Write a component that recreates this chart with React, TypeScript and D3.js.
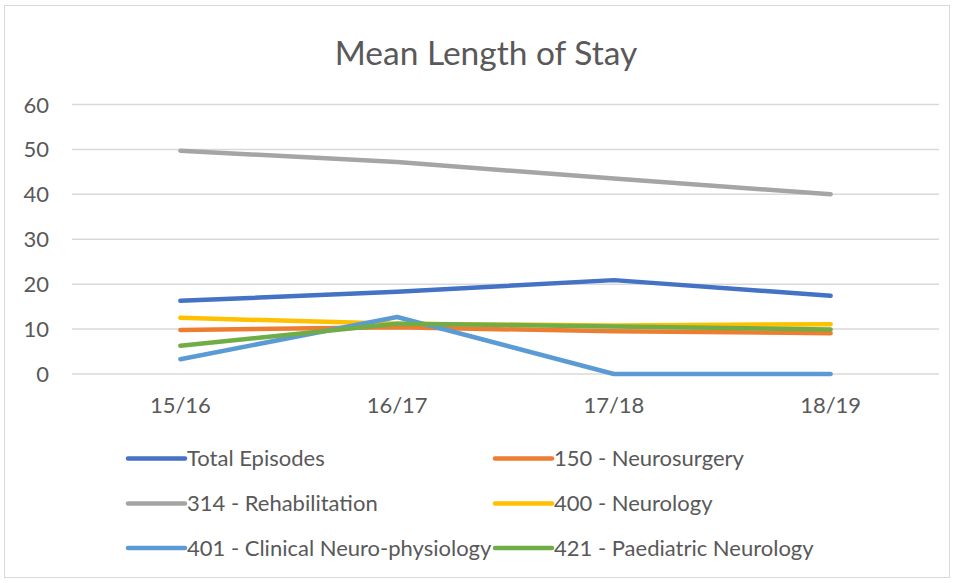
import React from "react";
import * as d3 from "d3";

const categories = ["15/16", "16/17", "17/18", "18/19"];
const seriesNames = [
  "Total Episodes",
  "150 - Neurosurgery",
  "314 - Rehabilitation",
  "400 - Neurology",
  "401 - Clinical Neuro-physiology",
  "421 - Paediatric Neurology",
];
const totalEpisodes = [16.3, 18.3, 20.9, 17.4];
const neurosurgery = [9.8, 10.4, 9.5, 9.1];
const rehabilitation = [49.7, 47.2, 43.5, 40.0];
const neurology = [12.5, 11.2, 10.8, 11.1];
const clinicalNeuro = [3.3, 12.7, 0, 0];
const paediatric = [6.3, 11.2, 10.6, 9.9];
const seriesColors = ["#4472C4", "#ED7D31", "#A5A5A5", "#FFC000", "#5B9BD5", "#70AD47"];
const yTicks = [0, 10, 20, 30, 40, 50, 60];

const seriesValues = [totalEpisodes, neurosurgery, rehabilitation, neurology, clinicalNeuro, paediatric];
const drawOrder = [2, 0, 3, 1, 4, 5];

export default function App() {
  const W = 956, H = 583;
  const x = d3.scaleBand<string>().domain(categories).range([72, 939]);
  const y = d3.scaleLinear().domain([0, 60]).range([374, 104.5]);
  const line = d3
    .line<number>()
    .x((_, i) => (x(categories[i]) as number) + x.bandwidth() / 2)
    .y((d) => y(d));
  const font = "Lato, 'Open Sans', sans-serif";
  const grey = "#595959";

  const legendRows = [458.5, 503.5, 548];
  const legendCols = [128, 495];

  return (
    <svg width={W} height={H} style={{ position: "absolute", left: 0, top: 0 }} fontFamily={font}>
      <rect x={0} y={0} width={W} height={H} fill="#fff" />
      <rect x={4.5} y={5.5} width={945} height={572} fill="#fff" stroke="#d9d9d9" strokeWidth={1} />
      <text x={486} y={65} textAnchor="middle" fontSize={33.5} fill={grey}>
        Mean Length of Stay
      </text>
      {yTicks.map((t) => (
        <g key={t}>
          <line x1={72} x2={939} y1={y(t)} y2={y(t)} stroke="#d9d9d9" strokeWidth={1.5} />
          <text x={49} y={y(t) + 8} textAnchor="end" fontSize={22} fill={grey}>
            {t}
          </text>
        </g>
      ))}
      {categories.map((c) => (
        <text key={c} x={(x(c) as number) + x.bandwidth() / 2} y={413} textAnchor="middle" fontSize={22} fill={grey}>
          {c}
        </text>
      ))}
      {drawOrder.map((i) => (
        <path
          key={i}
          d={line(seriesValues[i]) || ""}
          fill="none"
          stroke={seriesColors[i]}
          strokeWidth={4.5}
          strokeLinecap="round"
          strokeLinejoin="round"
        />
      ))}
      {seriesNames.map((n, i) => {
        const lx = legendCols[i % 2];
        const ly = legendRows[Math.floor(i / 2)];
        return (
          <g key={n}>
            <line x1={lx} x2={lx + 57} y1={ly} y2={ly} stroke={seriesColors[i]} strokeWidth={4.5} strokeLinecap="round" />
            <text x={lx + 59} y={ly + 7.5} fontSize={22} fill={grey}>
              {n}
            </text>
          </g>
        );
      })}
    </svg>
  );
}
